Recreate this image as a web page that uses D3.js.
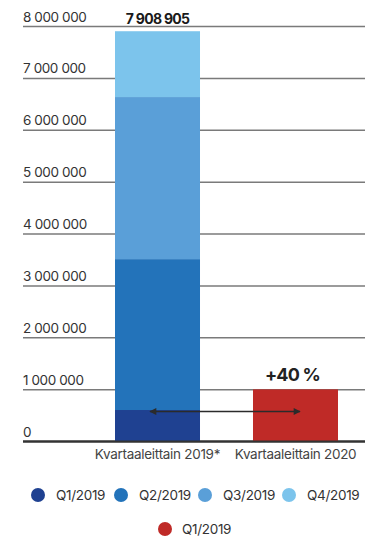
<!DOCTYPE html>
<html>
<head>
<meta charset="utf-8">
<script src="https://cdn.jsdelivr.net/npm/d3@7"></script>
<style>
  body { margin: 0; background: #fff; }
  text { font-family: Inter, "Noto Sans", sans-serif; }
</style>
</head>
<body>
<div id="chart"></div>
<script>
// Data
const categories = ["Kvartaaleittain 2019*", "Kvartaaleittain 2020"];
const quarters2019 = ["Q1/2019", "Q2/2019", "Q3/2019", "Q4/2019"];
const values2019 = [607000, 2909000, 3124000, 1268905];
const quarters2020 = ["Q1/2019"];
const values2020 = [1005000];
const colors2019 = ["#1f4191", "#2373ba", "#5a9fd8", "#7cc4ec"];
const colors2020 = ["#bf2a27"];
const yTicks = [0, 1000000, 2000000, 3000000, 4000000, 5000000, 6000000, 7000000, 8000000];
const changeLabel = "+40 %";

function draw() {
  const dimensions = { width: 369, height: 536 };

  const svg = d3
    .select("#chart")
    .append("svg")
    .attr("width", dimensions.width)
    .attr("height", dimensions.height);

  const fi = d3.formatLocale({ decimal: ",", thousands: " ", grouping: [3], currency: ["", " €"] });
  const fmt = fi.format(",d");

  // Scales
  const yScale = d3.scaleLinear().domain([0, 8000000]).range([441.5, 26.5]);
  const xScale = d3
    .scaleBand()
    .domain(categories)
    .range([115, 338])
    .paddingInner(0.384)
    .paddingOuter(0);

  // Gridlines
  const grid = svg.append("g");
  grid
    .selectAll("line")
    .data(yTicks)
    .join("line")
    .attr("x1", 23)
    .attr("x2", 365)
    .attr("y1", (d) => yScale(d))
    .attr("y2", (d) => yScale(d))
    .attr("stroke", (d) => (d === 0 ? "#333" : "#7a7a7a"))
    .attr("stroke-width", (d) => (d === 0 ? 2.2 : 1.5));

  grid
    .selectAll("text")
    .data(yTicks)
    .join("text")
    .attr("x", 23)
    .attr("y", (d) => yScale(d) - 5)
    .attr("font-size", 13.5)
    .attr("letter-spacing", -0.4)
    .attr("fill", "#333")
    .text((d) => fmt(d));

  // Stacked bar 2019
  const stack2019 = [];
  let acc = 0;
  values2019.forEach((v, i) => {
    stack2019.push({ y0: acc, y1: acc + v, color: colors2019[i] });
    acc += v;
  });
  const total2019 = acc;

  svg
    .append("g")
    .selectAll("rect")
    .data(stack2019)
    .join("rect")
    .attr("x", xScale(categories[0]))
    .attr("width", xScale.bandwidth())
    .attr("y", (d) => yScale(d.y1))
    .attr("height", (d) => yScale(d.y0) - yScale(d.y1))
    .attr("fill", (d) => d.color);

  svg
    .append("g")
    .selectAll("rect")
    .data(values2020)
    .join("rect")
    .attr("x", xScale(categories[1]))
    .attr("width", xScale.bandwidth())
    .attr("y", (d) => yScale(d))
    .attr("height", (d) => yScale(0) - yScale(d))
    .attr("fill", colors2020[0]);

  // redraw zero line on top of bars
  svg
    .append("line")
    .attr("x1", 23)
    .attr("x2", 365)
    .attr("y1", yScale(0))
    .attr("y2", yScale(0))
    .attr("stroke", "#333")
    .attr("stroke-width", 2.2);

  // Value labels
  svg
    .append("text")
    .attr("x", xScale(categories[0]) + xScale.bandwidth() / 2)
    .attr("y", yScale(total2019) - 7)
    .attr("text-anchor", "middle")
    .attr("font-size", 14)
    .attr("font-weight", 700)
    .attr("letter-spacing", -0.7)
    .attr("fill", "#1a1a1a")
    .text(fmt(total2019));

  svg
    .append("text")
    .attr("x", xScale(categories[1]) + xScale.bandwidth() / 2 - 3)
    .attr("y", yScale(values2020[0]) - 8)
    .attr("text-anchor", "middle")
    .attr("font-size", 18)
    .attr("font-weight", 700)
    .attr("letter-spacing", -0.8)
    .attr("fill", "#222")
    .text(changeLabel);

  // Arrow
  const defs = svg.append("defs");
  defs
    .append("marker")
    .attr("id", "ah")
    .attr("viewBox", "0 0 10 10")
    .attr("refX", 9)
    .attr("refY", 5)
    .attr("markerWidth", 9)
    .attr("markerHeight", 7)
    .attr("markerUnits", "userSpaceOnUse")
    .attr("orient", "auto-start-reverse")
    .append("path")
    .attr("d", "M0,0L10,5L0,10Z")
    .attr("fill", "#2b2b2b");

  const arrowY = yScale(values2019[0]) + 1.5;
  svg
    .append("line")
    .attr("x1", xScale(categories[0]) + 35)
    .attr("x2", xScale(categories[1]) + 47)
    .attr("y1", arrowY)
    .attr("y2", arrowY)
    .attr("stroke", "#2b2b2b")
    .attr("stroke-width", 1.3)
    .attr("marker-start", "url(#ah)")
    .attr("marker-end", "url(#ah)");

  // Category labels
  svg
    .append("g")
    .selectAll("text")
    .data(categories)
    .join("text")
    .attr("x", (d) => xScale(d) + xScale.bandwidth() / 2)
    .attr("y", 459)
    .attr("text-anchor", "middle")
    .attr("font-size", 13.5)
    .attr("letter-spacing", -0.3)
    .attr("fill", "#444")
    .text((d) => d);

  // Legend
  const legendX = [38, 121, 205, 289];
  const legend1 = svg
    .append("g")
    .selectAll("g")
    .data(quarters2019)
    .join("g")
    .attr("transform", (d, i) => `translate(${legendX[i]}, 495)`);
  legend1.append("circle").attr("r", 7).attr("fill", (d, i) => colors2019[i]);
  legend1
    .append("text")
    .attr("x", 18)
    .attr("y", 5)
    .attr("font-size", 13.5)
    .attr("letter-spacing", -0.3)
    .attr("fill", "#333")
    .text((d) => d);

  const legend2 = svg
    .append("g")
    .selectAll("g")
    .data(quarters2020)
    .join("g")
    .attr("transform", "translate(165, 529)");
  legend2.append("circle").attr("r", 7).attr("fill", colors2020[0]);
  legend2
    .append("text")
    .attr("x", 17)
    .attr("y", 5)
    .attr("font-size", 13.5)
    .attr("letter-spacing", -0.3)
    .attr("fill", "#333")
    .text((d) => d);
}

draw();
</script>
</body>
</html>
